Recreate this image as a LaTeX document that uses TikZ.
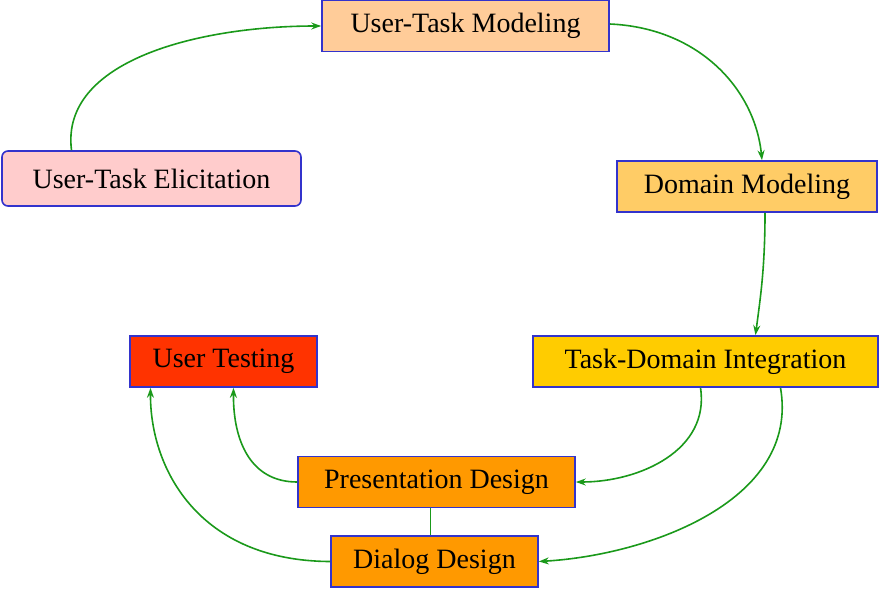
\documentclass[tikz,border=0pt]{standalone}
\usepackage{fontspec}
\setmainfont{Liberation Serif}
\usetikzlibrary{arrows.meta}
\begin{document}
\begin{tikzpicture}[x=1pt,y=-1pt,
  box/.style={draw=bblue,line width=1.6pt,minimum height=51pt,inner sep=0pt,font=\fontsize{28}{30}\selectfont},
  arr/.style={draw=agreen,line width=1.6pt,-{Stealth[length=10pt,width=7pt]}}]
\definecolor{bblue}{HTML}{3333CC}
\definecolor{agreen}{HTML}{1A991A}
\useasboundingbox (0,0) rectangle (880,589);
\node[box,fill={rgb,255:red,255;green,204;blue,153},minimum width=287pt] (utm) at (465.5,26) {User-Task Modeling};
\node[box,fill={rgb,255:red,255;green,204;blue,204},minimum width=299pt,rounded corners=6pt,minimum height=55pt] (ute) at (151.5,178.5) {User-Task Elicitation};
\node[box,fill={rgb,255:red,255;green,204;blue,102},minimum width=260pt] (dm) at (747,186.5) {Domain Modeling};
\node[box,fill={rgb,255:red,255;green,204;blue,0},minimum width=345pt] (tdi) at (705.5,361.5) {Task-Domain Integration};
\node[box,fill={rgb,255:red,255;green,51;blue,0},minimum width=187pt] (ut) at (223.5,361.5) {User Testing};
\node[box,fill={rgb,255:red,255;green,153;blue,0},minimum width=277pt] (pd) at (436.5,482) {Presentation Design};
\node[box,fill={rgb,255:red,255;green,153;blue,0},minimum width=207pt] (dd) at (434.5,561.5) {Dialog Design};
\coordinate (a1) at (71,151);
\draw[arr] ([xshift=-80pt]ute.north) .. controls (60,60) and (200,26) .. (utm.west);
\draw[arr] ([yshift=2pt]utm.east) .. controls (700,28) and (755,90) .. ([xshift=15pt]dm.north);
\draw[arr] ([xshift=18pt]dm.south) .. controls (765,270) and (760,300) .. ([xshift=50pt]tdi.north);
\draw[arr] ([xshift=-5pt]tdi.south) .. controls (710,450) and (640,482) .. (pd.east);
\draw[arr] ([xshift=75pt]tdi.south) .. controls (800,500) and (650,555) .. (dd.east);
\draw[arr] (pd.west) .. controls (250,482) and (233,440) .. ([xshift=10pt]ut.south);
\draw[arr] (dd.west) .. controls (200,561) and (150,470) .. ([xshift=-73pt]ut.south);
\draw[draw=agreen,line width=1.6pt] ([xshift=-6pt]pd.south) -- ([xshift=-4pt]dd.north);
\end{tikzpicture}
\end{document}
